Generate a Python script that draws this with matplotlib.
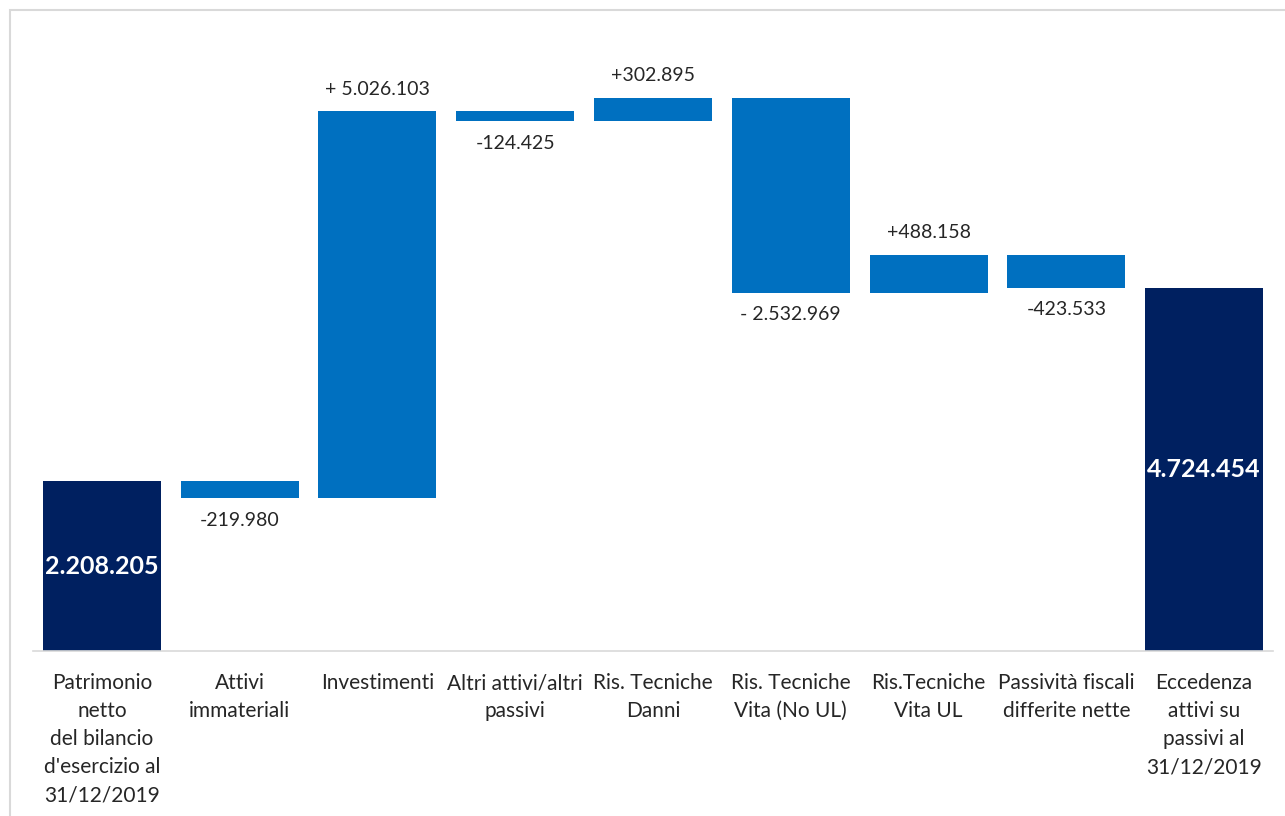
import matplotlib
matplotlib.use("Agg")
import matplotlib.pyplot as plt
from matplotlib.patches import Rectangle

plt.rcParams['font.family'] = ['Lato', 'DejaVu Sans']

# categories and values (euro thousands)
categories = [
    "Patrimonio\nnetto\ndel bilancio\nd'esercizio al\n31/12/2019",
    "Attivi\nimmateriali",
    "Investimenti",
    "Altri attivi/altri\npassivi",
    "Ris. Tecniche\nDanni",
    "Ris. Tecniche\nVita (No UL)",
    "Ris.Tecniche\nVita UL",
    "Passività fiscali\ndifferite nette",
    "Eccedenza\nattivi su\npassivi al\n31/12/2019",
]
start_value = 2208205
changes = [-219980, 5026103, -124425, 302895, -2532969, 488158, -423533]
end_value = 4724454
change_labels = ["-219.980", "+ 5.026.103", "-124.425", "+302.895",
                 "- 2.532.969", "+488.158", "-423.533"]
total_labels = ["2.208.205", "4.724.454"]

navy = "#002060"
blue = "#0070C0"

fig = plt.figure(figsize=(12.85, 8.16), dpi=100)
ax = fig.add_axes([33 / 1285, 1 - 651 / 816, 1240 / 1285, 631 / 816])

# figure border (light gray), runs off the right and bottom edges
fig.patches.append(Rectangle((10 / 1285, -0.05), 1.1, 1 - 10 / 816 + 0.05,
                             transform=fig.transFigure, fill=False,
                             edgecolor="#D9D9D9", linewidth=1.5))

width = 0.857
n = len(categories)

# start total
ax.bar(0, start_value, width, color=navy)
ax.text(0, start_value / 2, total_labels[0], ha="center", va="center",
        color="white", fontsize=18, fontweight="bold")

# floating changes
running = start_value
for i, (c, lab) in enumerate(zip(changes, change_labels), start=1):
    bottom = running if c > 0 else running + c
    ax.bar(i, abs(c), width, bottom=bottom, color=blue)
    if c > 0:
        ax.annotate(lab, (i, running + c), xytext=(0, 10), textcoords="offset points",
                    ha="center", va="bottom", fontsize=14, color="#262626")
    else:
        ax.annotate(lab, (i, running + c), xytext=(0, -10), textcoords="offset points",
                    ha="center", va="top", fontsize=14, color="#262626")
    running += c

# end total
ax.bar(n - 1, end_value, width, color=navy)
ax.text(n - 1, end_value / 2, total_labels[1], ha="center", va="center",
        color="white", fontsize=18, fontweight="bold")

ax.set_xlim(-0.5, n - 0.5)
ax.set_ylim(0, 631 * 13000)
ax.set_xticks(range(n))
ax.set_xticklabels(categories, fontsize=15, color="#262626", linespacing=1.5)
ax.tick_params(axis="x", length=0, pad=16)
ax.set_yticks([])
for s in ["top", "left", "right"]:
    ax.spines[s].set_visible(False)
ax.spines["bottom"].set_color("#D9D9D9")
ax.spines["bottom"].set_linewidth(1.2)

fig.savefig("out.png", dpi=100)
